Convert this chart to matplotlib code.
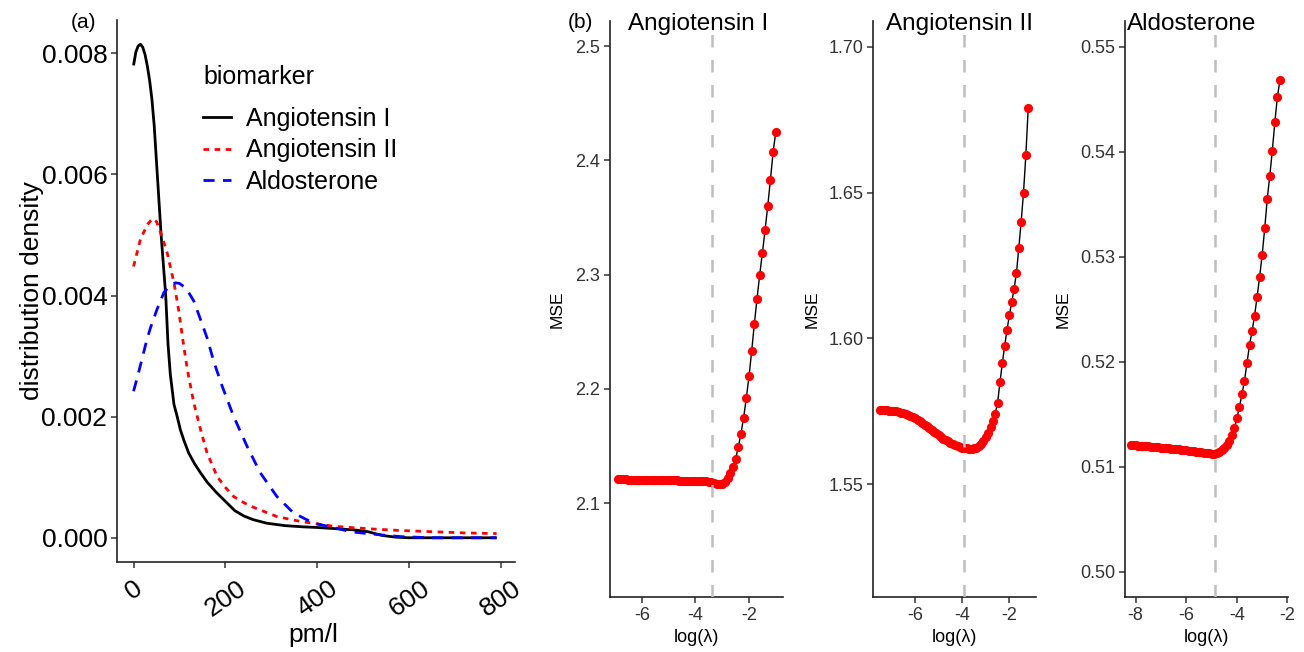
import matplotlib
matplotlib.use("Agg")
import matplotlib.pyplot as plt
from matplotlib.lines import Line2D
from matplotlib.ticker import FormatStrFormatter

plt.rcParams['font.family'] = ['Liberation Sans', 'DejaVu Sans']
plt.rcParams['axes.unicode_minus'] = False

# ---- panel (a): density curves ----
ang1_x = [0, 5, 10, 15, 20, 25, 30, 35, 40, 45, 50, 55, 60, 65, 70, 75, 80, 88, 95, 102,
          110, 120, 133, 146, 160, 180, 200, 220, 240, 260, 290, 330, 370, 400, 440, 480,
          510, 540, 570, 600, 700, 790]
ang1_y = [0.0078, 0.00802, 0.00812, 0.00815, 0.0081, 0.00798, 0.00779, 0.00755, 0.00724,
          0.0068, 0.0062, 0.0056, 0.0050, 0.0045, 0.0040, 0.0032, 0.0027, 0.0022, 0.0020,
          0.00178, 0.0016, 0.0014, 0.00122, 0.00107, 0.00092, 0.00075, 0.0006, 0.00045,
          0.00036, 0.0003, 0.00024, 0.0002, 0.00018, 0.00017, 0.00015, 0.00013, 0.0001,
          0.00004, 0.00001, 0.0, 0.0, 0.0]

ang2_x = [0, 15, 30, 41, 50, 59, 73, 88, 99, 106, 117, 131, 146, 160, 182, 200, 218, 240,
          262, 312, 363, 435, 508, 580, 652, 720, 790]
ang2_y = [0.00448, 0.00493, 0.00517, 0.00527, 0.00522, 0.00504, 0.00471, 0.00421, 0.00372,
          0.00333, 0.00278, 0.00223, 0.00178, 0.0014, 0.00101, 0.00083, 0.00068, 0.00058,
          0.0005, 0.00035, 0.00027, 0.00019, 0.00015, 0.00012, 0.0001, 0.00008, 0.00007]

ald_x = [0, 10, 20, 30, 37, 51, 66, 80, 91, 100, 109, 120, 131, 146, 160, 175, 193, 218,
         247, 276, 312, 348, 392, 435, 472, 508, 580, 650, 790]
ald_y = [0.00242, 0.0027, 0.003, 0.0033, 0.00347, 0.00377, 0.00405, 0.00417, 0.00421,
         0.0042, 0.00415, 0.00405, 0.00391, 0.0036, 0.0033, 0.0029, 0.0025, 0.002, 0.00151,
         0.00107, 0.00068, 0.00041, 0.00024, 0.00017, 0.0001, 0.00007, 0.00002, 0.0, 0.0]

biomarkers = ["Angiotensin I", "Angiotensin II", "Aldosterone"]

# ---- panel (b): cross-validated MSE against log(lambda) ----
lam_1 = [-6.9, -6.8, -6.7, -6.6, -6.5, -6.4, -6.3, -6.2, -6.1, -6.0,
         -5.9, -5.8, -5.7, -5.6, -5.5, -5.4, -5.3, -5.2, -5.1, -5.0,
         -4.9, -4.8, -4.7, -4.6, -4.5, -4.4, -4.3, -4.2, -4.1, -4.0,
         -3.9, -3.8, -3.7, -3.6, -3.5, -3.4, -3.3, -3.2, -3.1, -3.0,
         -2.9, -2.8, -2.7, -2.6, -2.5, -2.4, -2.3, -2.2, -2.1, -2.0,
         -1.9, -1.8, -1.7, -1.6, -1.5, -1.4, -1.3, -1.2, -1.1, -1.0]
mse_1 = [2.1210, 2.1210, 2.1209, 2.1209, 2.1208, 2.1208, 2.1207, 2.1207, 2.1206, 2.1206,
         2.1205, 2.1205, 2.1204, 2.1204, 2.1203, 2.1203, 2.1202, 2.1202, 2.1201, 2.1201,
         2.1200, 2.1200, 2.1200, 2.1199, 2.1199, 2.1199, 2.1198, 2.1198, 2.1197, 2.1197,
         2.1196, 2.1195, 2.1194, 2.1192, 2.1189, 2.1184, 2.1177, 2.1171, 2.1168, 2.1172,
         2.1188, 2.1220, 2.1262, 2.1315, 2.1390, 2.1490, 2.1610, 2.1750, 2.1920, 2.2110,
         2.2330, 2.2570, 2.2790, 2.3000, 2.3190, 2.3390, 2.3600, 2.3830, 2.4070, 2.4250]

lam_2 = [-7.5, -7.4, -7.3, -7.2, -7.1, -7.0, -6.9, -6.8, -6.7, -6.6, -6.5, -6.4, -6.3,
         -6.2, -6.1, -6.0, -5.9, -5.8, -5.7, -5.6, -5.5, -5.4, -5.3, -5.2, -5.1, -5.0,
         -4.9, -4.8, -4.7, -4.6, -4.5, -4.4, -4.3, -4.2, -4.1, -4.0, -3.9, -3.8, -3.7,
         -3.6, -3.5, -3.4, -3.3, -3.2, -3.1, -3.0, -2.9, -2.8, -2.7, -2.6, -2.5, -2.4,
         -2.3, -2.2, -2.1, -2.0, -1.9, -1.8, -1.7, -1.6, -1.5, -1.4, -1.3, -1.2]
mse_2 = [1.5755, 1.5755, 1.5754, 1.5754, 1.5753, 1.5752, 1.5751, 1.5750, 1.5748, 1.5746,
         1.5744, 1.5741, 1.5738, 1.5734, 1.5730, 1.5726, 1.5721, 1.5716, 1.5711, 1.5705,
         1.5699, 1.5693, 1.5687, 1.5681, 1.5675, 1.5669, 1.5663, 1.5657, 1.5652, 1.5647,
         1.5642, 1.5638, 1.5634, 1.5631, 1.5628, 1.5626, 1.5624, 1.5623, 1.5622, 1.5622,
         1.5623, 1.5626, 1.5631, 1.5638, 1.5648, 1.5661, 1.5677, 1.5695, 1.5716, 1.5742,
         1.5780, 1.5850, 1.5915, 1.5975, 1.6030, 1.6080, 1.6125, 1.6170, 1.6225, 1.6310,
         1.6400, 1.6500, 1.6630, 1.6790]

lam_3 = [-8.2, -8.1, -8.0, -7.9, -7.8, -7.7, -7.6, -7.5, -7.4, -7.3,
         -7.2, -7.1, -7.0, -6.9, -6.8, -6.7, -6.6, -6.5, -6.4, -6.3,
         -6.2, -6.1, -6.0, -5.9, -5.8, -5.7, -5.6, -5.5, -5.4, -5.3,
         -5.2, -5.1, -5.0, -4.9, -4.8, -4.7, -4.6, -4.5, -4.4, -4.3,
         -4.2, -4.1, -4.0, -3.9, -3.8, -3.7, -3.6, -3.5, -3.4, -3.3,
         -3.2, -3.1, -3.0, -2.9, -2.8, -2.7, -2.6, -2.5, -2.4, -2.3]
mse_3 = [0.5121, 0.5121, 0.5121, 0.5120, 0.5120, 0.5120, 0.5120, 0.5120, 0.5119, 0.5119,
         0.5119, 0.5119, 0.5118, 0.5118, 0.5118, 0.5118, 0.5117, 0.5117, 0.5117, 0.5117,
         0.5116, 0.5116, 0.5116, 0.5115, 0.5115, 0.5115, 0.5114, 0.5114, 0.5114, 0.5113,
         0.5113, 0.5113, 0.5112, 0.5112, 0.5113, 0.5114, 0.5116, 0.5118, 0.5121, 0.5125,
         0.5130, 0.5137, 0.5146, 0.5157, 0.5169, 0.5182, 0.5199, 0.5216, 0.5229, 0.5244,
         0.5262, 0.5281, 0.5302, 0.5327, 0.5355, 0.5377, 0.5401, 0.5428, 0.5452, 0.5468]

best_lam = [-3.39, -3.93, -4.86]

W, H = 1304, 652
fig = plt.figure(figsize=(W / 100, H / 100), dpi=100)


def px_axes(l, t, r, b):
    return fig.add_axes([l / W, 1 - b / H, (r - l) / W, (b - t) / H])


def classic(ax, size, color):
    for s in ["top", "right"]:
        ax.spines[s].set_visible(False)
    for s in ["left", "bottom"]:
        ax.spines[s].set_linewidth(1.2)
        ax.spines[s].set_color("#222222")
    ax.tick_params(length=4, width=1.1, color="#333333", labelsize=size,
                   labelcolor=color, pad=3)


# ---------- (a) ----------
ax_a = px_axes(117, 20, 515, 562)
ax_a.plot(ang1_x, ang1_y, color="black", lw=2.0, solid_capstyle="butt")
ax_a.plot(ang2_x, ang2_y, color="#FF0000", lw=2.0, dashes=(2, 2))
ax_a.plot(ald_x, ald_y, color="#0000FF", lw=2.0, dashes=(4, 3))
ax_a.set_xlim(-36, 830)
ax_a.set_ylim(-0.0004, 0.00855)
ax_a.set_xticks([0, 200, 400, 600, 800])
ax_a.set_yticks([0, 0.002, 0.004, 0.006, 0.008])
ax_a.yaxis.set_major_formatter(FormatStrFormatter("%.3f"))
classic(ax_a, 19, "black")
ax_a.tick_params(axis="x", pad=6)
plt.setp(ax_a.get_xticklabels(), rotation=35, ha="center", va="top")
ax_a.set_ylabel("distribution density", fontsize=19, va="center")
ax_a.yaxis.set_label_coords(-0.214, 0.5)
ax_a.set_xlabel("pm/l", fontsize=19, va="center")
ax_a.xaxis.set_label_coords(0.4925, -0.135)

handles = [Line2D([], [], color="black", lw=2.0),
           Line2D([], [], color="#FF0000", lw=2.0, dashes=(2, 2)),
           Line2D([], [], color="#0000FF", lw=2.0, dashes=(4, 3))]
fig.text(203 / W, 1 - 77 / H, "biomarker", fontsize=18, ha="left", va="center")
ax_a.legend(handles, biomarkers, loc="upper left",
            bbox_to_anchor=(203 / W, 1 - 107 / H), bbox_transform=fig.transFigure,
            frameon=False, fontsize=18, handlelength=1.1,
            handletextpad=0.6, labelspacing=0.3, borderpad=0, borderaxespad=0)

fig.text(84 / W, 1 - 23 / H, "(a)", fontsize=15, ha="center", va="center")
fig.text(580 / W, 1 - 22 / H, "(b)", fontsize=15, ha="center", va="center")

# ---------- (b) ----------
panels = [
    (px_axes(610, 21, 783, 597), lam_1, mse_1, (-7.19, -0.73), (2.018, 2.522),
     [2.1, 2.2, 2.3, 2.4, 2.5], "%.1f", [-6, -4, -2], 698, -0.306),
    (px_axes(873, 21, 1036, 597), lam_2, mse_2, (-7.79, -0.87), (1.5114, 1.7088),
     [1.55, 1.60, 1.65, 1.70], "%.2f", [-6, -4, -2], 959, -0.372),
    (px_axes(1125, 21, 1288, 597), lam_3, mse_3, (-8.42, -1.98), (0.4976, 0.55245),
     [0.50, 0.51, 0.52, 0.53, 0.54, 0.55], "%.2f", [-8, -6, -4, -2], 1192, -0.381),
]

for i, (ax, lam, mse, xl, yl, yt, fmt, xt, tx, ylx) in enumerate(panels):
    ax.plot(lam, mse, color="black", lw=1.0, zorder=2)
    ax.plot(lam, mse, "o", color="#FF0000", ms=6.6, mec="none", zorder=3)
    ax.axvline(best_lam[i], color="#BEBEBE", lw=1.8, dashes=(5, 5), zorder=4)
    ax.set_xlim(*xl)
    ax.set_ylim(*yl)
    ax.set_yticks(yt)
    ax.set_xticks(xt)
    ax.yaxis.set_major_formatter(FormatStrFormatter(fmt))
    classic(ax, 13, "#333333")
    ax.set_ylabel("MSE", fontsize=12.5, va="center")
    ax.yaxis.set_label_coords(ylx, 0.5)
    ax.set_xlabel("log(λ)", fontsize=13, va="center")
    ax.xaxis.set_label_coords(0.5, -0.071)
    fig.text(tx / W, 1 - 30 / H, biomarkers[i], fontsize=17.5, ha="center",
             va="baseline")

fig.savefig("out.png", dpi=100)
